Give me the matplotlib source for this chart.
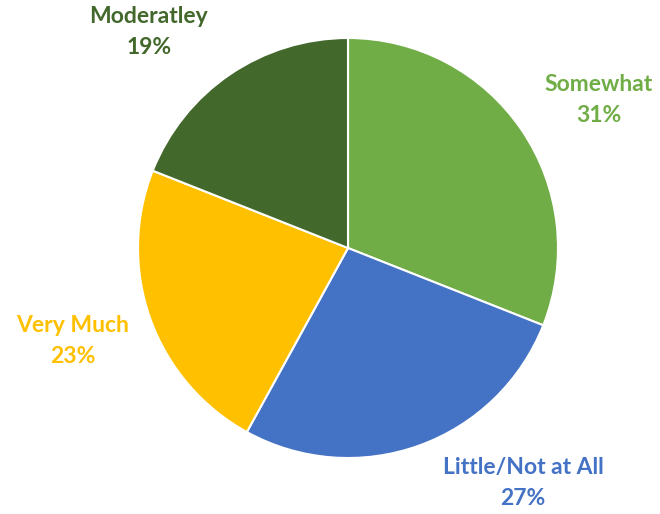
import matplotlib
matplotlib.use("Agg")
import matplotlib.pyplot as plt
import numpy as np

categories = ["Somewhat", "Little/Not at All", "Very Much", "Moderatley"]
values = [31, 27, 23, 19]
colors = ["#70AD47", "#4472C4", "#FFC000", "#43682B"]

# label positions (data units, pie radius = 1)
label_pos = [(1.195, 0.705), (0.833, -1.119), (-1.31, -0.443), (-0.948, 1.029)]

fig = plt.figure(figsize=(6.6, 5.14), dpi=100)
ax = fig.add_axes([0, 0, 1, 1])
cx, cy, R = 348, 248, 210
W, H = 660, 514

wedges, _ = ax.pie(values, colors=colors, startangle=90, counterclock=False,
                   radius=1.0, wedgeprops=dict(edgecolor="white", linewidth=1.5))
ax.set_xlim(-cx / R, (W - cx) / R)
ax.set_ylim(-(H - cy) / R, cy / R)
ax.set_aspect("auto")
ax.axis("off")

total = sum(values)
for cat, v, c, (x, y) in zip(categories, values, colors, label_pos):
    ax.text(x, y, f"{cat}\n{round(100 * v / total)}%", color=c, ha="center", va="center",
            fontsize=16.5, fontweight="bold", family=["Lato", "DejaVu Sans"], linespacing=1.55)

fig.savefig("out.png", dpi=100)
